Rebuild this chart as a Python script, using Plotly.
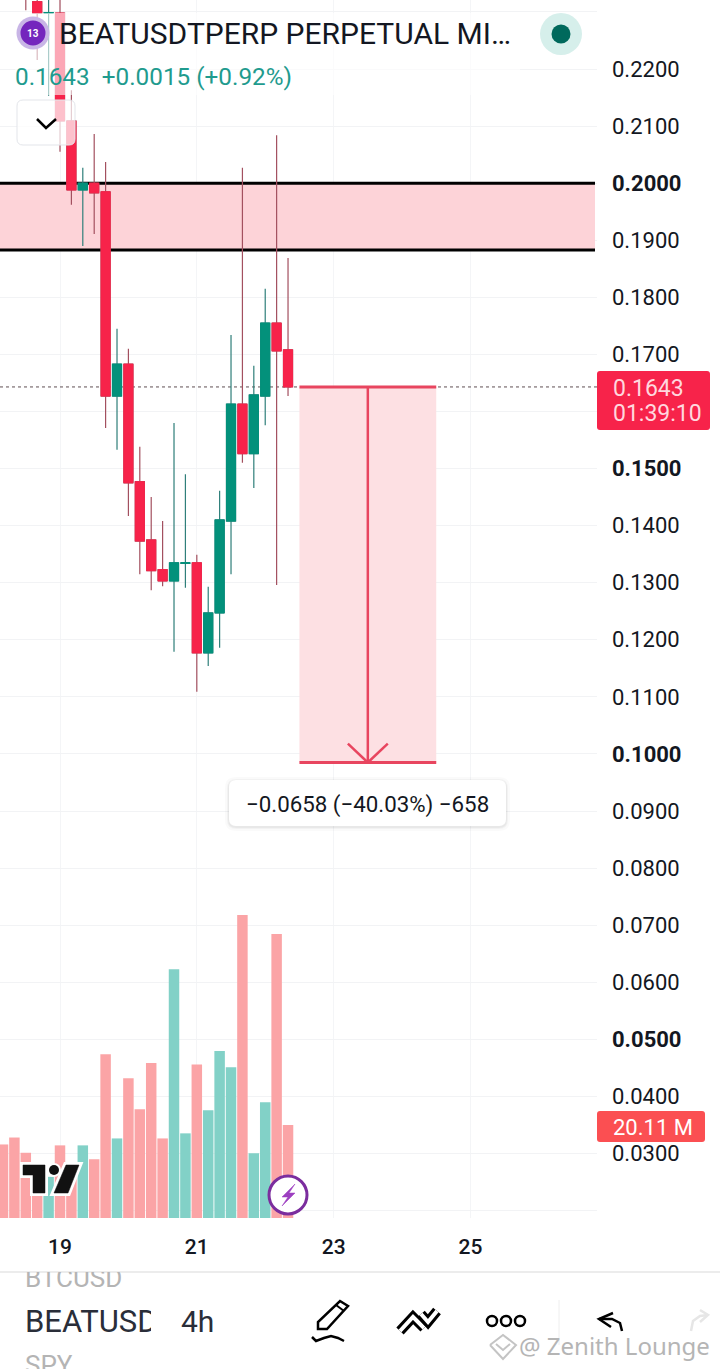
import pandas as pd
import plotly.graph_objects as go

# 4h candles, starts 18th 04:00
times = pd.date_range("2026-01-18 04:00", periods=31, freq="4h")
opens = [0.2460, 0.2420, 0.2340, 0.2318, 0.2298, 0.2298, 0.2109, 0.1988, 0.2000, 0.1985, 0.1627, 0.1683, 0.1477,
         0.1375, 0.1323, 0.1303, 0.1334, 0.1335, 0.1177, 0.1247, 0.1408, 0.1613, 0.1526, 0.1627, 0.1755, 0.1708]
closes = [0.2420, 0.2380, 0.2325, 0.2298, 0.2299, 0.2109, 0.1988, 0.2000, 0.1983, 0.1627, 0.1683, 0.1475, 0.1373,
          0.1321, 0.1303, 0.1335, 0.1335, 0.1177, 0.1247, 0.1410, 0.1613, 0.1526, 0.1629, 0.1755, 0.1706, 0.1643]
highs = [0.2480, 0.2440, 0.2345, 0.2340, 0.2340, 0.2340, 0.2163, 0.2027, 0.2086, 0.2037, 0.1745, 0.1710, 0.1538,
         0.1450, 0.1408, 0.1580, 0.1490, 0.1349, 0.1293, 0.1461, 0.1734, 0.2027, 0.1680, 0.1815, 0.2084, 0.1869]
lows = [0.2400, 0.2360, 0.2303, 0.2216, 0.2153, 0.2055, 0.1962, 0.1890, 0.1911, 0.1571, 0.1533, 0.1417, 0.1315,
        0.1287, 0.1294, 0.1179, 0.1291, 0.1109, 0.1154, 0.1186, 0.1315, 0.1510, 0.1466, 0.1576, 0.1296, 0.1627]
volumes = [15.9, 17.4, 14.1, 8.1, 8.9, 15.7, 8.9, 15.7, 12.7, 35.4, 17.2, 30.2, 23.5,
           33.5, 17.2, 53.8, 18.3, 33.2, 23.3, 36.1, 32.6, 65.5, 14.0, 25.0, 61.4, 20.11]
times = times[:len(opens)]

price_ticks = [0.23, 0.22, 0.21, 0.20, 0.19, 0.18, 0.17, 0.16, 0.15, 0.14, 0.13, 0.12, 0.11, 0.10,
               0.09, 0.08, 0.07, 0.06, 0.05, 0.04, 0.03, 0.02]
price_labels = ["", "0.2200", "0.2100", "<b>0.2000</b>", "0.1900", "0.1800", "0.1700", "", "<b>0.1500</b>",
                "0.1400", "0.1300", "0.1200", "0.1100", "<b>0.1000</b>", "0.0900", "0.0800", "0.0700", "0.0600",
                "<b>0.0500</b>", "0.0400", "0.0300", ""]
day_ticks = ["2026-01-19", "2026-01-21", "2026-01-23", "2026-01-25"]
day_labels = ["19", "21", "23", "25"]

x_first, x_last, zone_end = "2026-01-18 02:57", "2026-01-26 20:24", "2026-01-26 19:42"
zone_top, zone_bottom = 0.2000, 0.1883
last_price = 0.1643
target_price = 0.0985
tool_start, tool_mid, tool_end = "2026-01-22 12:00", "2026-01-23 12:00", "2026-01-24 12:00"
head_left, head_right = "2026-01-23 05:00", "2026-01-23 19:00"

UP, DOWN = "#03917b", "#f7234a"
UP_WICK, DOWN_WICK = "#2f7f7a", "#a3505f"
UP_VOL, DOWN_VOL = "#82d1c7", "#fba4a6"
TXT = "#131722"
W, H = 720, 1369
PLOT_W, PLOT_H = 597, 1218


def X(px):
    return px / PLOT_W


def Y(py):
    return 1 - py / PLOT_H


fig = go.Figure()
bar_colors = [UP_VOL if c >= o else DOWN_VOL for o, c in zip(opens, closes)]
fig.add_trace(go.Bar(x=times, y=volumes, marker_color=bar_colors, marker_line_width=0, yaxis="y2"))
# wicks first, then bodies on top so the wick can be duller than the body
fig.add_trace(go.Candlestick(x=times, open=opens, close=closes, high=highs, low=lows, whiskerwidth=0,
                             increasing=dict(line=dict(color=UP_WICK, width=1.2), fillcolor=UP),
                             decreasing=dict(line=dict(color=DOWN_WICK, width=1.2), fillcolor=DOWN)))
body_high = [max(o, c) for o, c in zip(opens, closes)]
body_low = [min(o, c) for o, c in zip(opens, closes)]
fig.add_trace(go.Candlestick(x=times, open=opens, close=closes, high=body_high, low=body_low, whiskerwidth=0,
                             increasing=dict(line=dict(color=UP, width=1), fillcolor=UP),
                             decreasing=dict(line=dict(color=DOWN, width=1), fillcolor=DOWN)))

shapes = []
notes = []


def rect(x0, y0, x1, y1, fill, r=0, line=None, lw=1, layer="above"):
    p = (f"M {X(x0+r)} {Y(y0)} L {X(x1-r)} {Y(y0)} Q {X(x1)} {Y(y0)} {X(x1)} {Y(y0+r)} "
         f"L {X(x1)} {Y(y1-r)} Q {X(x1)} {Y(y1)} {X(x1-r)} {Y(y1)} L {X(x0+r)} {Y(y1)} "
         f"Q {X(x0)} {Y(y1)} {X(x0)} {Y(y1-r)} L {X(x0)} {Y(y0+r)} Q {X(x0)} {Y(y0)} {X(x0+r)} {Y(y0)} Z")
    shapes.append(dict(type="path", xref="paper", yref="paper", path=p, fillcolor=fill, layer=layer,
                       line=dict(color=line or "rgba(0,0,0,0)", width=lw)))


def circle(cx, cy, r, fill, line=None, lw=1):
    shapes.append(dict(type="circle", xref="paper", yref="paper", x0=X(cx-r), x1=X(cx+r), y0=Y(cy+r), y1=Y(cy-r),
                       fillcolor=fill, line=dict(color=line or "rgba(0,0,0,0)", width=lw)))


def poly(points, color="#000000", lw=2, fill=None):
    p = "M " + " L ".join(f"{X(a)} {Y(b)}" for a, b in points)
    if fill:
        p += " Z"
    shapes.append(dict(type="path", xref="paper", yref="paper", path=p, fillcolor=fill or "rgba(0,0,0,0)",
                       line=dict(color=color, width=lw)))


def text(x, y, s, size, color=TXT, anchor="left", family="Roboto", **kw):
    notes.append(dict(xref="paper", yref="paper", x=X(x), y=Y(y), text=s, showarrow=False, xanchor=anchor,
                      yanchor="middle", font=dict(size=size, color=color, family=family), borderpad=0, **kw))


# resistance zone, above the grid but behind the candles (needs data refs for "between")
shapes.append(dict(type="rect", x0=x_first, x1=zone_end, y0=zone_bottom, y1=zone_top,
                   fillcolor="#fdd3d8", line_width=0, layer="between"))
for level in [zone_top, zone_bottom]:
    shapes.append(dict(type="line", x0=x_first, x1=zone_end, y0=level, y1=level,
                       line=dict(color="#000000", width=3), layer="between"))

# last price line
shapes.append(dict(type="line", x0=x_first, x1=x_last, y0=last_price, y1=last_price,
                   line=dict(color="#5f4f53", width=1, dash="dot"), layer="between"))

# short position tool
shapes.append(dict(type="rect", x0=tool_start, x1=tool_end, y0=target_price, y1=last_price,
                   fillcolor="#fde0e3", line_width=0, layer="between"))
for level in [last_price, target_price]:
    shapes.append(dict(type="line", x0=tool_start, x1=tool_end, y0=level, y1=level,
                       line=dict(color="#e8455f", width=3)))
shapes.append(dict(type="line", x0=tool_mid, x1=tool_mid, y0=target_price, y1=last_price,
                   line=dict(color="#e8455f", width=2.5)))
for side in [head_left, head_right]:
    shapes.append(dict(type="line", x0=side, x1=tool_mid, y0=target_price + 0.0033, y1=target_price,
                       line=dict(color="#e8455f", width=2.5)))

# label of the tool
for grow, a in [(4, 0.02), (2, 0.03), (1, 0.04)]:
    rect(229 - grow, 780 - grow + 1, 506 + grow, 826 + grow + 1, f"rgba(0,0,0,{a})", r=7 + grow)
rect(229, 780, 506, 826, "#ffffff", r=7)
text(367.5, 804, "\u22120.0658 (\u221240.03%) \u2212658", 22.3, anchor="center")

# legend header over the candles
rect(15, 13, 520, 95, "rgba(255,255,255,0.6)")
text(58, 33, "BEATUSDTPERP PERPETUAL MI\u2026", 30)
text(14, 76, "0.1643&nbsp;&nbsp;+0.0015 (+0.92%)", 24.3, color="#1f9b8e")
rect(17, 100, 75, 145, "rgba(255,255,255,0.72)", r=6, line="#e3e5ea", lw=1)
poly([(37, 119), (46, 128), (56, 119)], lw=2.5)
circle(33, 33, 16.5, "#c8b5e6")
circle(33, 33, 12.5, "#7426bd")
text(33, 33, "<b>13</b>", 10, color="#ffffff", anchor="center")
circle(561, 34, 21, "#d6efeb")
circle(561, 34, 9.5, "#00695c")

# price tags
rect(597, 371, 710, 430, "#f7234a", r=3)
text(612, 388, "0.1643", 23, color="#ffd7de")
text(612, 414, "01:39:10", 23, color="#ffd7de")
rect(597, 1111, 705, 1142, "#fb4f52", r=3)
text(612, 1127, "20.11 M", 22, color="#ffffff")

# TV logo
logo_t = [(23, 1165), (45, 1165), (45, 1193), (33, 1193), (33, 1175), (23, 1175)]
logo_s = [(66, 1165), (79, 1165), (68, 1193), (54, 1193)]
poly(logo_t, color="#ffffff", lw=6, fill="#ffffff")
poly(logo_s, color="#ffffff", lw=6, fill="#ffffff")
circle(54, 1170, 7, "#ffffff")
poly(logo_t, color="#111111", lw=0.5, fill="#111111")
poly(logo_s, color="#111111", lw=0.5, fill="#111111")
circle(54, 1170, 5, "#111111")

# replay button
circle(288, 1195, 19, "#ffffff", line="#7b2d9e", lw=3)
poly([(295, 1184), (282, 1197), (288, 1197), (282, 1206), (295, 1193), (289, 1193)], color="#9c3fc0", lw=0.5,
     fill="#9c3fc0")

# bottom toolbar
shapes.append(dict(type="line", xref="paper", yref="paper", x0=0, x1=X(W), y0=Y(1272), y1=Y(1272),
                   line=dict(color="#ececec", width=2)))
text(24, 1282.5, "BTCUSD", 26, color="#b4b4b4", height=21, valign="bottom", width=125, align="left")
text(24, 1322, "BEATUSD", 31, color="#2a2e39", width=126, align="left")
text(24, 1365, "SPY", 26, color="#b4b4b4")
text(180, 1322, "4h", 30, color="#2a2e39")
poly([(318, 1329), (318, 1322), (340, 1301), (348, 1306), (327, 1329)], lw=2.5, fill="#ffffff")
poly([(336, 1305), (344, 1311)], lw=2)
poly([(312, 1337), (316, 1341), (324, 1338), (331, 1336), (338, 1338), (344, 1341)], lw=2.5)
for pts in [[(400, 1331), (413, 1317), (424, 1328)], [(421, 1314), (428, 1322), (437, 1311)]]:
    poly(pts, lw=10)
    poly(pts, color="#ffffff", lw=4)
for cx in [492, 506, 520]:
    circle(cx, 1321, 5, "#ffffff", line="#000000", lw=2.5)
shapes.append(dict(type="line", xref="paper", yref="paper", x0=X(559), x1=X(559), y0=Y(1300), y1=Y(1345),
                   line=dict(color="#eeeeee", width=1)))
poly([(613, 1313), (599, 1319), (611, 1327)], lw=2.5)
poly([(599, 1319), (612, 1319), (620, 1323), (622, 1331)], lw=2.5)
poly([(691, 1331), (693, 1321), (700, 1316), (708, 1315)], color="#e6e6e6", lw=2.5)
poly([(700, 1310), (708, 1315), (700, 1322)], color="#e6e6e6", lw=2.5)

# watermark
for pts in [[(490, 1345), (503, 1335), (516, 1345), (503, 1359), (490, 1345)],
            [(496, 1344), (503, 1350), (510, 1344)]]:
    poly(pts, color="#c4c4c4", lw=2)
text(518, 1345, "@ Zenith Lounge", 24, color="#b5b5b5", family="Noto Sans")

fig.update_layout(
    width=W, height=H, autosize=False,
    margin=dict(l=0, r=W - PLOT_W, t=0, b=H - PLOT_H),
    paper_bgcolor="#ffffff", plot_bgcolor="#ffffff",
    showlegend=False, bargap=0.08, boxgap=0.2, boxgroupgap=0,
    font=dict(family="Roboto", color=TXT),
    shapes=shapes, annotations=notes,
    xaxis=dict(type="date", range=[x_first, x_last], rangeslider_visible=False,
               tickvals=day_ticks, ticktext=day_labels,
               tickfont=dict(size=21, family="Roboto", color=TXT, weight=500),
               showgrid=True, gridcolor="#f4f5f7", gridwidth=1, zeroline=False, showline=False,
               ticks="", ticklabelstandoff=14),
    yaxis=dict(range=[0.0187, 0.23209], side="right", tickvals=price_ticks, ticktext=price_labels,
               tickfont=dict(size=22, family="Roboto", color=TXT), showgrid=True, gridcolor="#f2f3f5",
               gridwidth=1, zeroline=False, showline=False, ticks="", ticklabelstandoff=14),
    yaxis2=dict(range=[0, 263.3], overlaying="y", side="left", visible=False, fixedrange=True),
)

# the default page has an 8px body margin
fig.write_html("out.html", config={"displayModeBar": False},
               post_script="document.body.style.margin='0';document.body.style.overflow='hidden';")
